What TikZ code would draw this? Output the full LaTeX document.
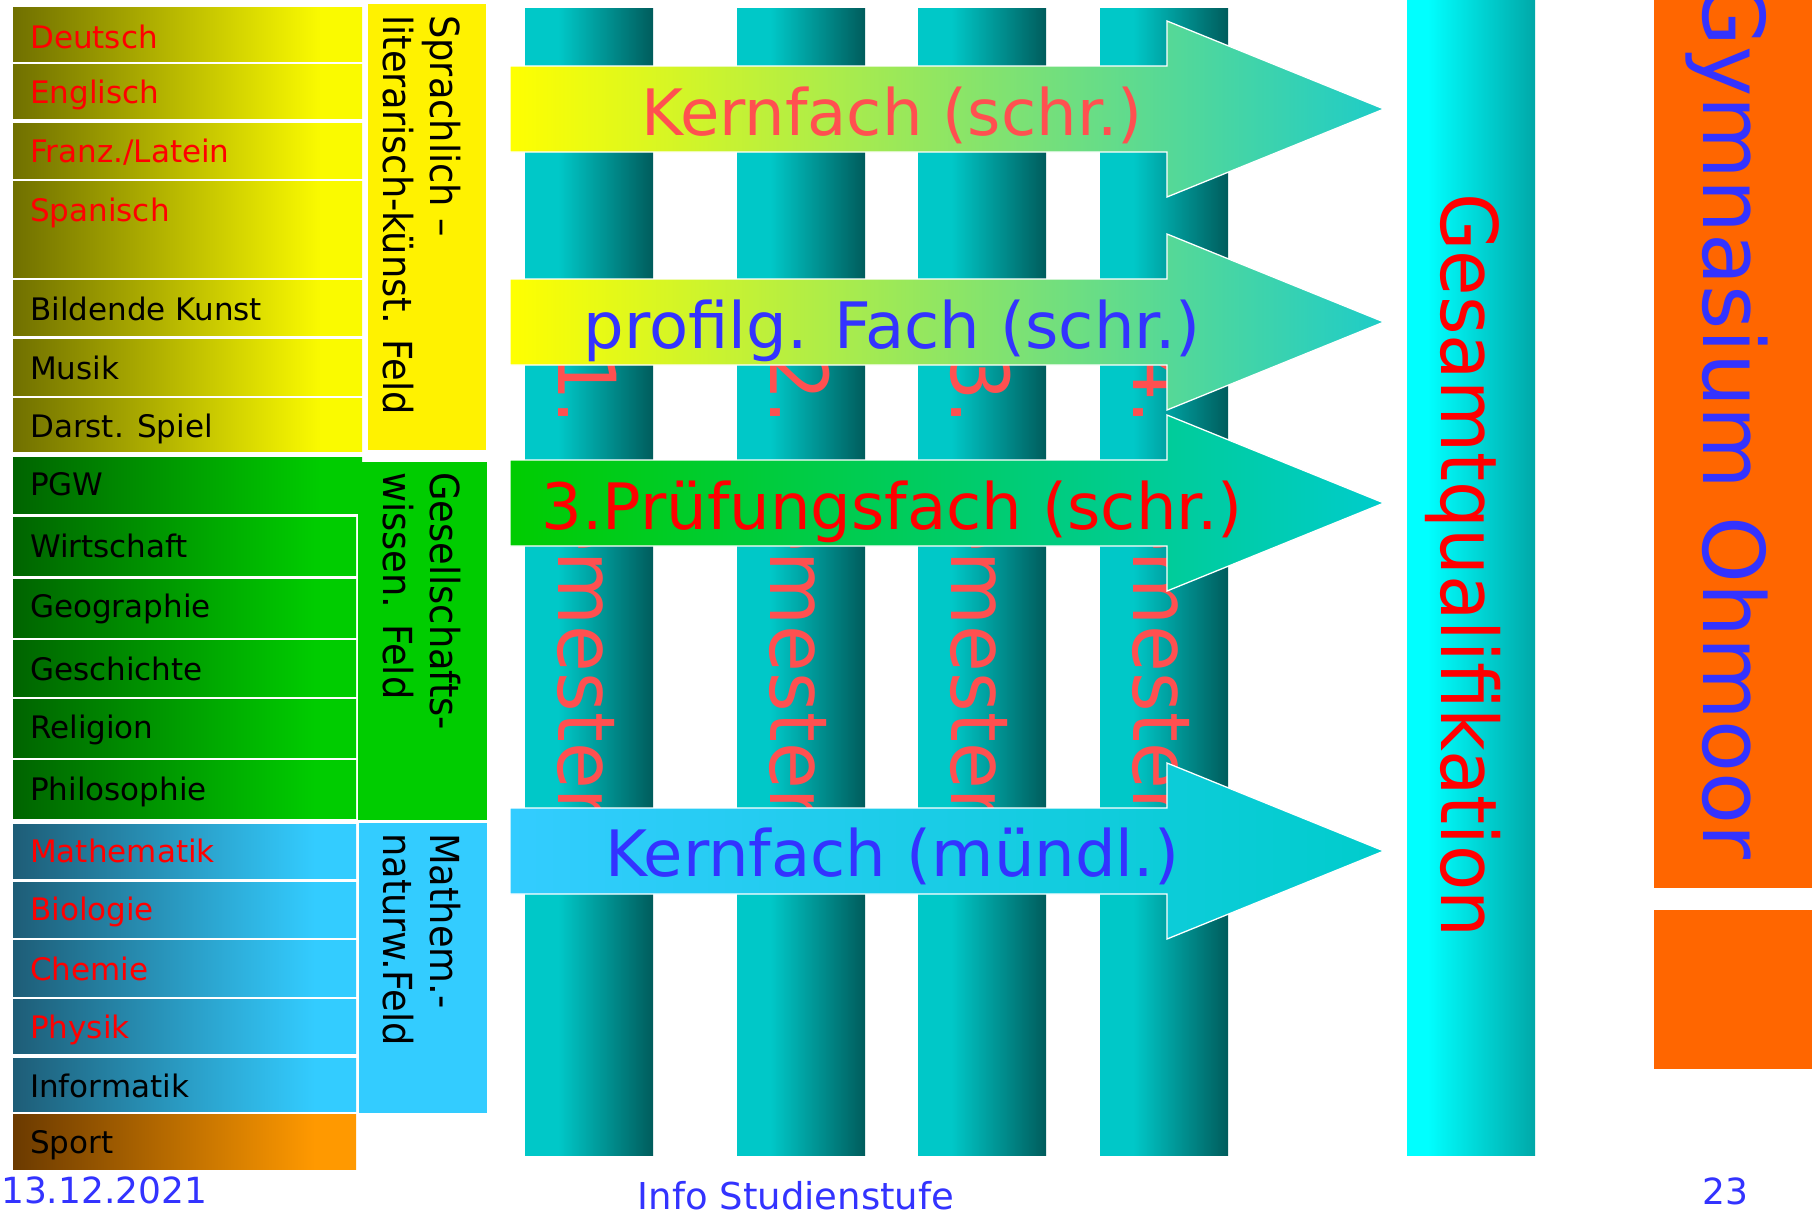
\documentclass[tikz,border=0pt]{standalone}
\usepackage{fontspec}
\setmainfont{DejaVu Sans}
\usepackage{graphicx}
\definecolor{txtblue}{HTML}{3333FF}
\definecolor{coral}{HTML}{FF5050}
\definecolor{semA}{HTML}{00C8C8}
\definecolor{semB}{HTML}{005C5C}
\definecolor{ylL}{HTML}{707000}
\definecolor{ylR}{HTML}{FAFA00}
\definecolor{grL}{HTML}{006400}
\definecolor{grR}{HTML}{00CC00}
\definecolor{blL}{HTML}{1E5D77}
\definecolor{blR}{HTML}{33CCFF}
\definecolor{spL}{HTML}{6B3A00}
\definecolor{spR}{HTML}{FF9900}
\definecolor{arTeal}{HTML}{1ECCC8}
\definecolor{arMid}{HTML}{BDE89A}
\definecolor{arCyan}{HTML}{00CCCC}
\definecolor{arGreen}{HTML}{00CC00}
\definecolor{arBlue}{HTML}{33CCFF}
\definecolor{gqA}{HTML}{00FFFF}
\definecolor{gqB}{HTML}{00A8A8}
\definecolor{orng}{HTML}{FF6600}
% the path's box is mapped onto 25bp..75bp of each shading
\pgfdeclarehorizontalshading{ylshade}{100bp}{color(0bp)=(ylL); color(25bp)=(ylL); color(69bp)=(ylR); color(100bp)=(ylR)}
\pgfdeclarehorizontalshading{grshade}{100bp}{color(0bp)=(grL); color(25bp)=(grL); color(69bp)=(grR); color(100bp)=(grR)}
\pgfdeclarehorizontalshading{blshade}{100bp}{color(0bp)=(blL); color(25bp)=(blL); color(69bp)=(blR); color(100bp)=(blR)}
\pgfdeclarehorizontalshading{spshade}{100bp}{color(0bp)=(spL); color(25bp)=(spL); color(69bp)=(spR); color(100bp)=(spR)}
\pgfdeclarehorizontalshading{semshade}{100bp}{color(0bp)=(semA); color(25bp)=(semA); color(38bp)=(semA); color(75bp)=(semB); color(100bp)=(semB)}
\pgfdeclarehorizontalshading{gqshade}{100bp}{color(0bp)=(gqA); color(25bp)=(gqA); color(33bp)=(gqA); color(75bp)=(gqB); color(100bp)=(gqB)}
\newcommand{\myfs}[1]{\fontsize{#1}{#1}\selectfont}
% subject row: right x, top, bottom, shading
\newcommand{\subjrow}[4]{%
  \shade[shading=#4, shading angle=0] (13,#2) rectangle (#1,#3);}
% semester column at left x
\newcommand{\semcol}[1]{%
  \shade[shading=semshade, shading angle=0] (#1,8) rectangle ({#1+128},1155);}
% big arrow: centre y, extra shading options
\newcommand{\bigarrow}[2]{%
  \draw[draw=white, line width=1.3, #2]
    (510,{#1-43}) -- (1167,{#1-43}) -- (1167,{#1-88}) -- (1384,#1)
    -- (1167,{#1+88}) -- (1167,{#1+43}) -- (510,{#1+43}) -- cycle;}
\begin{document}
\begin{tikzpicture}[x=1pt,y=-1pt,
  rowlbl/.style={anchor=base west, inner sep=0pt, font=\myfs{31}},
  rotlbl/.style={rotate=-90, anchor=base west, inner sep=0pt},
  fieldlbl/.style={rotlbl, font=\myfs{40}, text=black},
  semlbl/.style={rotlbl, font=\myfs{80}, text=coral},
  arrlbl/.style={anchor=base, inner sep=0pt, font=\myfs{64}},
  footlbl/.style={inner sep=0pt, text=txtblue}]
\useasboundingbox (0,0) rectangle (1812,1216);
\fill[white] (0,0) rectangle (1812,1216);

% ---------- subject rows ----------
\subjrow{362}{7}{61}{ylshade}
\subjrow{362}{64}{118}{ylshade}
\subjrow{362}{123}{178}{ylshade}
\subjrow{362}{181}{277}{ylshade}
\subjrow{362}{280}{335}{ylshade}
\subjrow{362}{339}{395}{ylshade}
\subjrow{362}{398}{451}{ylshade}
\subjrow{362}{457}{513}{grshade}
\subjrow{356}{517}{575}{grshade}
\subjrow{356}{579}{637}{grshade}
\subjrow{356}{640}{696}{grshade}
\subjrow{356}{699}{757}{grshade}
\subjrow{356}{760}{818}{grshade}
\subjrow{356}{824}{878}{blshade}
\subjrow{356}{882}{937}{blshade}
\subjrow{356}{940}{996}{blshade}
\subjrow{356}{999}{1053}{blshade}
\subjrow{356}{1058}{1111}{blshade}
\subjrow{356}{1114}{1169}{spshade}

\node[rowlbl, text=red] (deutsch) at (30,48) {Deutsch};
\node[rowlbl, text=red] (englisch) at (30,103) {Englisch};
\node[rowlbl, text=red] (franz) at (30,162) {Franz./Latein};
\node[rowlbl, text=red] (spanisch) at (30,221) {Spanisch};
\node[rowlbl, text=black] (kunst) at (30,320) {Bildende Kunst};
\node[rowlbl, text=black] (musik) at (30,379) {Musik};
\node[rowlbl, text=black] (darst) at (30,437) {Darst. Spiel};
\node[rowlbl, text=black] (pgw) at (30,495) {PGW};
\node[rowlbl, text=black] (wirt) at (30,557) {Wirtschaft};
\node[rowlbl, text=black] (geo) at (30,617) {Geographie};
\node[rowlbl, text=black] (gesch) at (30,680) {Geschichte};
\node[rowlbl, text=black] (reli) at (30,738) {Religion};
\node[rowlbl, text=black] (philo) at (30,800) {Philosophie};
\node[rowlbl, text=red] (mathe) at (30,862) {Mathematik};
\node[rowlbl, text=red] (bio) at (30,920) {Biologie};
\node[rowlbl, text=red] (chemie) at (30,980) {Chemie};
\node[rowlbl, text=red] (physik) at (30,1038) {Physik};
\node[rowlbl, text=black] (info) at (30,1097) {Informatik};
\node[rowlbl, text=black] (sport) at (30,1153) {Sport};

% ---------- field boxes ----------
\fill[yellow] (368,4) rectangle (486,450);
\fill[grR] (358,462) rectangle (487,820);
\fill[blR] (359,823) rectangle (487,1113);
\node[fieldlbl] (f1a) at (430,15) {\scalebox{0.92}[1]{Sprachlich –}};
\node[fieldlbl] (f1b) at (383,15) {\scalebox{0.92}[1]{literarisch-künst. Feld}};
\node[fieldlbl] (f2a) at (430,472) {\scalebox{0.92}[1]{Gesellschafts-}};
\node[fieldlbl] (f2b) at (383,472) {\scalebox{0.92}[1]{wissen. Feld}};
\node[fieldlbl] (f3a) at (430,833) {\scalebox{0.92}[1]{Mathem.-}};
\node[fieldlbl] (f3b) at (383,833) {\scalebox{0.92}[1]{naturw.Feld}};

% ---------- semester columns ----------
\semcol{525}
\semcol{737}
\semcol{918}
\semcol{1100}
\node[semlbl] (sem1) at (558,352) {\scalebox{0.95}[1]{1. Semester}};
\node[semlbl] (sem2) at (770,352) {\scalebox{0.95}[1]{2. Semester}};
\node[semlbl] (sem3) at (951,352) {\scalebox{0.95}[1]{3. Semester}};
\node[semlbl] (sem4) at (1133,352) {\scalebox{0.95}[1]{4. Semester}};

% ---------- arrows ----------
\bigarrow{109}{left color=yellow, middle color=arMid, right color=arTeal}
\bigarrow{322}{left color=yellow, middle color=arMid, right color=arTeal}
\bigarrow{503}{left color=arGreen, right color=arCyan}
\bigarrow{851}{left color=arBlue, right color=arCyan}
\node[arrlbl, text=coral] (a1) at (892,135) {Kernfach (schr.)};
\node[arrlbl, text=txtblue] (a2) at (892,348) {profilg. Fach (schr.)};
\node[arrlbl, text=red] (a3) at (892,529) {3.Prüfungsfach (schr.)};
\node[arrlbl, text=txtblue] (a4) at (892,876) {Kernfach (mündl.)};

% ---------- Gesamtqualifikation ----------
\shade[shading=gqshade, shading angle=0] (1407,0) rectangle (1535,1155);
\node[rotlbl, font=\myfs{78}, text=red] (gq) at (1441,193) {\scalebox{0.95}[1]{Gesamtqualifikation}};

% ---------- school band ----------
\fill[orng] (1654,0) rectangle (1812,888);
\fill[orng] (1654,910) rectangle (1812,1069);
\node[rotlbl, font=\myfs{85}, text=txtblue] (gym) at (1703,-20) {Gymnasium Ohmoor};

% ---------- footer ----------
\node[footlbl, anchor=base west, font=\myfs{36}] (date) at (1,1203) {13.12.2021};
\node[footlbl, anchor=base, font=\myfs{37}] (title) at (796,1209) {Info Studienstufe};
\node[footlbl, anchor=base west, font=\myfs{36}] (page) at (1702,1204) {23};
\end{tikzpicture}
\end{document}
